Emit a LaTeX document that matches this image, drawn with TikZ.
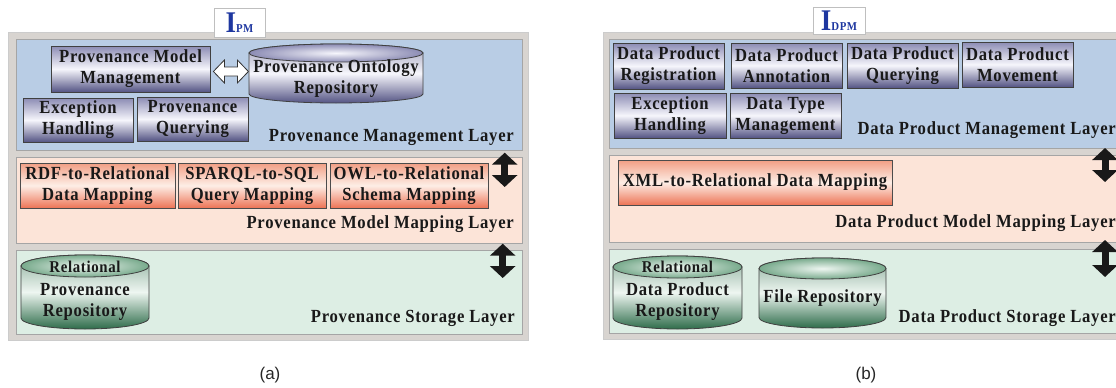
\documentclass[tikz,border=0pt]{standalone}
\usepackage{fontspec}
\setmainfont{Liberation Serif}[FakeStretch=0.9, LetterSpace=4]
\newfontfamily\capfont{Liberation Sans}
\usepackage{tikz}
\usetikzlibrary{arrows.meta, calc, positioning}

\definecolor{mgmtbg}{RGB}{185,205,229}
\definecolor{mapbg}{RGB}{252,228,216}
\definecolor{storbg}{RGB}{221,238,228}
\definecolor{framebg}{RGB}{216,212,208}
\definecolor{layerln}{RGB}{165,165,165}
\definecolor{purptop}{RGB}{140,140,180}
\definecolor{purpdark}{RGB}{84,84,132}
\definecolor{purplite}{RGB}{246,246,252}
\definecolor{orgtop}{RGB}{242,158,132}
\definecolor{orgbot}{RGB}{237,116,86}
\definecolor{orglite}{RGB}{253,238,230}
\definecolor{grndark}{RGB}{46,108,74}
\definecolor{grnlite}{RGB}{238,246,241}
\definecolor{grncap}{RGB}{120,170,140}
\definecolor{tagblue}{RGB}{30,55,160}
\definecolor{txt}{RGB}{25,25,25}

\newcommand{\boxfont}{\bfseries\fontsize{18.5}{21}\selectfont}
\newcommand{\relfont}{\bfseries\fontsize{16.5}{18}\selectfont}

\tikzstyle{panelframe} = [draw=gray!40, fill=framebg, anchor=north west, inner sep=0pt]
\tikzstyle{layerbox} = [draw=layerln, line width=0.7pt, anchor=north west, inner sep=0pt]
\tikzstyle{tagbox} = [draw=gray!50, fill=white, text=tagblue, font=\bfseries, inner sep=0pt]
\tikzstyle{mgmt} = [draw=black!75, line width=0.8pt, top color=purptop, bottom color=purpdark, middle color=purplite, align=center, inner sep=0pt, font=\boxfont, text=txt]
\tikzstyle{mapping} = [draw=black!70, line width=0.8pt, top color=orgtop, bottom color=orgbot, middle color=orglite, align=center, inner sep=0pt, font=\boxfont, text=txt]
\tikzstyle{cyltxt} = [align=center, inner sep=0pt, font=\boxfont, text=txt]
\tikzstyle{layertxt} = [anchor=east, inner sep=0pt, font=\boxfont, text=txt]
\tikzstyle{captxt} = [font=\capfont\fontsize{17}{17}\selectfont, text=black!85]
\tikzstyle{updown} = [line width=7pt, black!90, {Triangle[width=25pt,length=12pt]}-{Triangle[width=25pt,length=12pt]}]
\tikzstyle{openarrow} = [draw=black!80, line width=0.8pt, fill=white, line join=miter]

% x1, x2, ytop, ybottom, ry, dark, light, cap
\newcommand{\drawcyl}[8]{%
  \pgfmathsetmacro{\cylrx}{(#2-#1)/2}
  \pgfmathsetmacro{\cylcx}{(#1+#2)/2}
  \path[draw=black!75, line width=0.8pt, top color=#6!55!white, bottom color=#6, middle color=#7]
    (#1,#3+#5) -- (#1,#4-#5) arc[start angle=180, end angle=0, x radius=\cylrx, y radius=#5]
    -- (#2,#3+#5) arc[start angle=0, end angle=-180, x radius=\cylrx, y radius=#5] -- cycle;
  \path[draw=black!75, line width=0.8pt, inner color=#7, outer color=#8]
    (\cylcx,#3+#5) ellipse[x radius=\cylrx, y radius=#5];
}

\begin{document}
\begin{tikzpicture}[x=1pt, y=-1pt]
\useasboundingbox (0,0) rectangle (1116,388);
\clip (0,0) rectangle (1116,388);

% (a) provenance side
\node[panelframe, minimum width=520pt, minimum height=308pt] (frameA) at (8,32) {};
\node[layerbox, fill=mgmtbg, minimum width=506pt, minimum height=111pt] (pmgmt) at (16,39) {};
\node[layerbox, fill=mapbg, minimum width=506pt, minimum height=86pt] (pmap) at (16,157) {};
\node[layerbox, fill=storbg, minimum width=506pt, minimum height=84pt] (pstor) at (16,250) {};
\node[tagbox, minimum width=51pt, minimum height=29pt] (ipm) at (239.5,22.5) {{\fontsize{30}{30}\selectfont I}{\fontsize{12}{12}\selectfont PM}};

\node[mgmt, minimum width=159pt, minimum height=46pt] (pmm) at (130.5,69) {Provenance Model\\Management};
\node[mgmt, minimum width=110pt, minimum height=44pt] (exh) at (78,120) {Exception\\Handling};
\node[mgmt, minimum width=111pt, minimum height=44pt] (pq) at (192.5,119) {Provenance\\Querying};
\drawcyl{249}{423}{44}{103}{9}{purpdark}{purplite}{purptop}
\node[cyltxt] (por) at (336,79) {Provenance Ontology\\Repository};
\draw[openarrow] ($(pmm.east)+(3,2.5)$) -- ++(11,-11.5) -- ++(0,7) -- ++(13,0) -- ++(0,-7)
  -- ++(11,11.5) -- ++(-11,11.5) -- ++(0,-7) -- ++(-13,0) -- ++(0,7) -- cycle;
\node[layertxt] (pmlbl) at (514,137) {Provenance Management Layer};

\node[mapping, minimum width=155pt, minimum height=45pt] (rdf) at (97.5,185.5) {RDF-to-Relational\\Data Mapping};
\node[mapping, minimum width=148pt, minimum height=45pt] (sparql) at (252,185.5) {SPARQL-to-SQL\\Query Mapping};
\node[mapping, minimum width=158pt, minimum height=45pt] (owl) at (409,185.5) {OWL-to-Relational\\Schema Mapping};
\node[layertxt] (pmaplbl) at (514,224) {Provenance Model Mapping Layer};

\drawcyl{21}{149}{255}{329}{11}{grndark}{grnlite}{grncap}
\node[cyltxt, font=\relfont] (rprtop) at (85,267) {Relational};
\node[cyltxt] (rpr) at (85,302) {Provenance\\Repository};
\node[layertxt] (pstlbl) at (515,318) {Provenance Storage Layer};

\coordinate (ua1) at ($(pmgmt.south east)+(-18,2)$);
\coordinate (ua2) at ($(pmap.north east)+(-18,30)$);
\coordinate (ua3) at ($(pmap.south east)+(-20,0)$);
\coordinate (ua4) at ($(pstor.north east)+(-20,28)$);
\draw[updown] (ua1) -- (ua2);
\draw[updown] (ua3) -- (ua4);

\node[captxt] (capA) at (270,375) {(a)};

% (b) data product side
\node[panelframe, minimum width=530pt, minimum height=307pt] (frameB) at (603,32) {};
\node[layerbox, fill=mgmtbg, minimum width=520pt, minimum height=109pt] (dmgmt) at (609,39) {};
\node[layerbox, fill=mapbg, minimum width=520pt, minimum height=87pt] (dmap) at (609,155) {};
\node[layerbox, fill=storbg, minimum width=520pt, minimum height=84pt] (dstor) at (609,249) {};
\node[tagbox, minimum width=52pt, minimum height=27pt] (idpm) at (839,20.5) {{\fontsize{30}{30}\selectfont I}{\fontsize{12}{12}\selectfont DPM}};

\node[mgmt, minimum width=111pt, minimum height=46pt] (dpr) at (668.5,66) {Data Product\\Registration};
\node[mgmt, minimum width=111pt, minimum height=45pt] (dpa) at (786.5,65.5) {Data Product\\Annotation};
\node[mgmt, minimum width=111pt, minimum height=45pt] (dpq) at (902.5,65.5) {Data Product\\Querying};
\node[mgmt, minimum width=111pt, minimum height=45pt] (dpmv) at (1017.5,64.5) {Data Product\\Movement};
\node[mgmt, minimum width=112pt, minimum height=45pt] (exh2) at (670,115.5) {Exception\\Handling};
\node[mgmt, minimum width=111pt, minimum height=45pt] (dtm) at (785.5,115.5) {Data Type\\Management};
\node[layertxt] (dmlbl) at (1116,130) {Data Product Management Layer};

\node[mapping, minimum width=274pt, minimum height=45pt] (xml) at (755,182.5) {XML-to-Relational Data Mapping};
\node[layertxt] (dmaplbl) at (1116,223) {Data Product Model Mapping Layer};

\drawcyl{613}{742}{256}{329}{11}{grndark}{grnlite}{grncap}
\node[cyltxt, font=\relfont] (rdprtop) at (677.5,267) {Relational};
\node[cyltxt] (rdpr) at (677.5,302) {Data Product\\Repository};
\drawcyl{759}{886}{258}{328}{10.5}{grndark}{grnlite}{grncap}
\node[cyltxt] (frep) at (822.5,298) {File Repository};
\node[layertxt] (dstlbl) at (1116,318) {Data Product Storage Layer};

\coordinate (ub1) at (1105,148);
\coordinate (ub2) at (1105,182);
\coordinate (ub3) at (1105,240);
\coordinate (ub4) at (1105,277);
\draw[updown] (ub1) -- (ub2);
\draw[updown] (ub3) -- (ub4);

\node[captxt] (capB) at (866,375) {(b)};
\end{tikzpicture}
\end{document}
